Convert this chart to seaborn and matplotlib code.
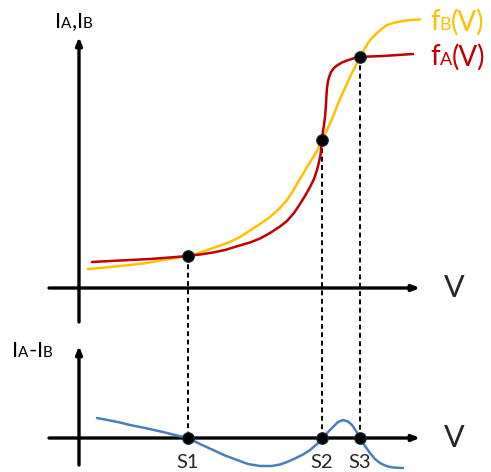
import numpy as np
import matplotlib.pyplot as plt
import seaborn as sns
from matplotlib.offsetbox import TextArea, HPacker, AnnotationBbox

sns.set_style('white')
plt.rcParams['font.family'] = ['Lato', 'DejaVu Sans']

v_a = [13, 31, 51, 71, 91, 109, 121, 134, 146, 159, 171, 181, 191, 201, 208,
       215, 221, 226, 231, 235, 238, 240, 241.5, 243, 244, 245, 246, 247, 247.5, 248,
       249, 250.5, 252, 255, 258, 263, 268, 274, 281, 291, 304, 319, 334]
i_a = [26, 27, 28, 29, 30.5, 32, 33.5, 35.5, 38, 42, 45.5, 49.5, 55, 61.5, 67,
       75, 84, 92, 101, 109, 118, 126, 133, 148, 157, 163, 171, 184, 193, 200,
       207, 212, 216, 220, 222.5, 225.5, 227.5, 229.5, 231, 231.5, 232, 233, 234]

# Courbe fB(V) (jaune)
v_b = [9, 21, 36, 51, 68, 84, 96, 109, 121, 134, 143, 151, 161, 171, 181,
       191, 201, 208, 214, 219, 224, 228, 233, 238, 243, 248, 253, 257, 261, 266,
       271, 276, 281, 285, 289, 293, 298, 303, 308, 314, 321, 331, 341]
i_b = [19, 20, 21.5, 23, 25, 28, 30, 32, 35.5, 40, 43, 46, 51, 57.5, 64,
       71, 80, 88, 97, 106, 114, 121, 129, 137, 148, 158, 169, 179, 189, 200,
       211, 221, 231, 238, 245, 250, 255, 259.5, 263, 265, 266.5, 268, 268.5]

# Différence IA - IB (bleu)
v_d = [18, 31, 41, 51, 66, 84, 96, 109, 121, 134, 146, 158, 169, 181, 193,
       201, 208, 216, 224, 231, 238, 244, 249, 254, 259, 264, 269, 273, 277, 281,
       286, 291, 296, 301, 306, 311, 317, 324]
i_d = [20, 17.5, 15.5, 13, 10, 6, 3, 0, -6, -12, -17.5, -22, -26, -28, -28,
       -26.5, -24, -20.5, -16.5, -12, -6, 0, 6, 11, 16, 18, 16.5, 13, 7, 0,
       -8, -15, -21, -25, -27.5, -29, -29.7, -30]

# Points de croisement
s_names = ['S1', 'S2', 'S3']
s_v = [109, 243, 281]
s_i = [32, 148, 231]

X0, TOP, BOT = 79, 288, 438
RED, YELLOW, BLUE = '#C00000', '#FFC000', '#4A7EBB'

fig = plt.figure(figsize=(4.91, 4.72), dpi=100)
ax = fig.add_axes([0, 0, 1, 1])
ax.set_xlim(0, 491)
ax.set_ylim(472, 0)
ax.axis('off')

arrow = dict(arrowstyle='-|>,head_length=0.45,head_width=0.18', lw=2.4, color='black',
             shrinkA=0, shrinkB=0)
# axes du haut
ax.annotate('', xy=(420, TOP), xytext=(49, TOP), arrowprops=arrow)
ax.annotate('', xy=(X0, 37), xytext=(X0, 322), arrowprops=arrow)
# axes du bas
ax.annotate('', xy=(420, BOT), xytext=(49, BOT), arrowprops=arrow)
ax.annotate('', xy=(X0, 346), xytext=(X0, 465), arrowprops=arrow)

# lignes pointillées
for v, i in zip(s_v, s_i):
    ax.plot([X0 + v, X0 + v], [TOP - i, BOT], ls=(0, (2.5, 1.8)), color='black', lw=1.4, zorder=2)

sns.lineplot(x=X0 + np.array(v_b), y=TOP - np.array(i_b), color=YELLOW, lw=1.8, sort=False, ax=ax, zorder=3)
sns.lineplot(x=X0 + np.array(v_a), y=TOP - np.array(i_a), color=RED, lw=1.8, sort=False, ax=ax, zorder=3)
sns.lineplot(x=X0 + np.array(v_d), y=BOT - np.array(i_d), color=BLUE, lw=1.8, sort=False, ax=ax, zorder=3)

sns.scatterplot(x=X0 + np.array(s_v), y=TOP - np.array(s_i), color='black', s=70, edgecolor='#1F2D3D',
                linewidth=0.8, zorder=5, ax=ax)
sns.scatterplot(x=X0 + np.array(s_v), y=[BOT] * 3, color='black', s=70, edgecolor='#1F2D3D',
                linewidth=0.8, zorder=5, ax=ax)

for name, v in zip(s_names, s_v):
    ax.text(X0 + v, 462, name, ha='center', va='center', fontsize=14.5)

ax.text(454, TOP, 'V', ha='center', va='center', fontsize=22)
ax.text(454, BOT, 'V', ha='center', va='center', fontsize=22)


def sub_label(parts, xy, color='black'):
    boxes = [TextArea(t, textprops=dict(color=color, fontsize=s)) for t, s in parts]
    pack = HPacker(children=boxes, align='baseline', pad=0, sep=0)
    ab = AnnotationBbox(pack, xy, xycoords='data', frameon=False, box_alignment=(0, 0.5), pad=0)
    ax.add_artist(ab)


sub_label([('I', 16), ('A', 11), (',', 16), ('I', 16), ('B', 11)], (55, 22))
sub_label([('I', 16), ('A', 11), ('-', 16), ('I', 16), ('B', 11)], (12, 351))
sub_label([('f', 20), ('B', 13), ('(V)', 20)], (430, 22), YELLOW)
sub_label([('f', 20), ('A', 13), ('(V)', 20)], (430, 57), RED)

fig.savefig('out.png', dpi=100)
